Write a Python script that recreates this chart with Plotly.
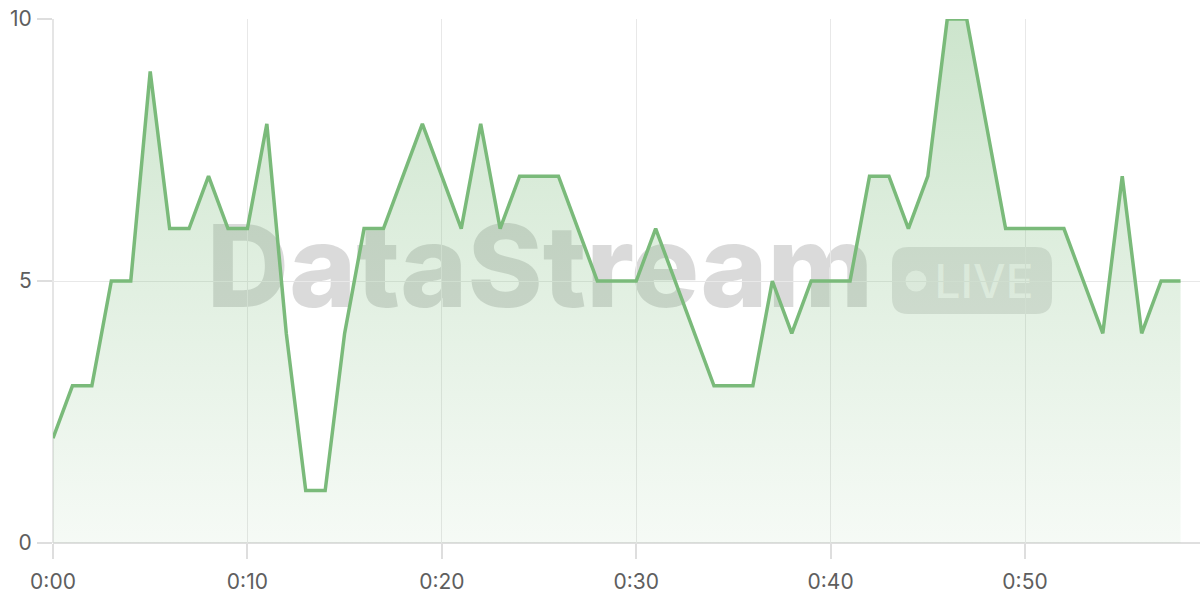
import plotly.graph_objects as go

minutes = list(range(59))
values = [2, 3, 3, 5, 5, 9, 6, 6, 7, 6, 6, 8, 4, 1, 1, 4, 6, 6, 7, 8,
          7, 6, 8, 6, 7, 7, 7, 6, 5, 5, 5, 6, 5, 4, 3, 3, 3, 5, 4, 5,
          5, 5, 7, 7, 6, 7, 10, 10, 8, 6, 6, 6, 6, 5, 4, 7, 4, 5, 5]
tick_vals = [0, 10, 20, 30, 40, 50]
tick_text = ["0:00", "0:10", "0:20", "0:30", "0:40", "0:50"]
watermark = "DataStream"
badge = "LIVE"

W, H = 1200, 600
L, R, T, B = 53, 0, 19, 57
pw, ph = W - L - R, H - T - B

def px(x):
    return (x - L) / pw

def py(y):
    return (H - B - y) / ph

fig = go.Figure()
fig.add_trace(go.Scatter(
    x=minutes, y=values, mode="lines",
    line=dict(color="#7aba7a", width=3.5),
    fill="tozeroy",
    fillgradient=dict(type="vertical",
                      colorscale=[[0, "rgba(122,186,122,0.07)"], [1, "rgba(122,186,122,0.38)"]]),
    hoverinfo="skip",
))

font_fam = "Inter, Open Sans, sans-serif"
shapes = []
# Watermark text
shapes.append(dict(type="rect", xref="paper", yref="paper", layer="between",
                   x0=px(200), x1=px(880), y0=py(318), y1=py(205),
                   line=dict(width=0), fillcolor="rgba(0,0,0,0)",
                   label=dict(text=watermark, textposition="middle center",
                              font=dict(size=114, color="rgba(0,0,0,0.145)", family=font_fam, weight=800))))
# Badge rounded rect
x0, x1, y0, y1, r = 892, 1052, 247, 314, 16
def P(x, y):
    return f"{px(x):.5f},{py(y):.5f}"
path = (f"M {P(x0 + r, y0)} L {P(x1 - r, y0)} Q {P(x1, y0)} {P(x1, y0 + r)} "
        f"L {P(x1, y1 - r)} Q {P(x1, y1)} {P(x1 - r, y1)} L {P(x0 + r, y1)} "
        f"Q {P(x0, y1)} {P(x0, y1 - r)} L {P(x0, y0 + r)} Q {P(x0, y0)} {P(x0 + r, y0)} Z")
shapes.append(dict(type="path", xref="paper", yref="paper", layer="between", path=path,
                   line=dict(width=0), fillcolor="rgba(0,0,0,0.11)"))
# Dot
shapes.append(dict(type="circle", xref="paper", yref="paper", layer="between",
                   x0=px(905.5), x1=px(926.5), y0=py(291.5), y1=py(270.5),
                   line=dict(width=0), fillcolor="rgba(255,255,255,0.7)"))
# LIVE text
shapes.append(dict(type="rect", xref="paper", yref="paper", layer="between",
                   x0=px(928), x1=px(1040), y0=py(304), y1=py(256),
                   line=dict(width=0), fillcolor="rgba(0,0,0,0)",
                   label=dict(text=badge, textposition="middle center",
                              font=dict(size=46, color="rgba(255,255,255,0.72)", family=font_fam, weight=500))))

fig.update_layout(
    width=W, height=H,
    margin=dict(l=L, r=R, t=T, b=B),
    paper_bgcolor="white", plot_bgcolor="white",
    showlegend=False,
    shapes=shapes,
    font=dict(family=font_fam, size=21, color="#5e5e5e"),
    xaxis=dict(range=[0, 59], tickvals=tick_vals, ticktext=tick_text,
               showgrid=True, gridcolor="#e8e8e8", gridwidth=1,
               ticks="outside", ticklen=15, tickcolor="#dedede", tickwidth=1.5,
               ticklabelstandoff=5,
               showline=False, zeroline=False, fixedrange=True),
    yaxis=dict(range=[0, 10], tickvals=[0, 5, 10],
               showgrid=True, gridcolor="#e8e8e8", gridwidth=1,
               ticks="outside", ticklen=15, tickcolor="#dedede", tickwidth=1.5,
               ticklabelstandoff=1,
               showline=False, zeroline=False, fixedrange=True),
)
# axis base lines
fig.add_shape(type="line", xref="paper", yref="paper", x0=0, x1=1, y0=0, y1=0,
              line=dict(color="#d4d4d4", width=1.5), layer="between")
fig.add_shape(type="line", xref="paper", yref="paper", x0=0, x1=0, y0=0, y1=1,
              line=dict(color="#dcdcdc", width=1.5), layer="between")

fig.write_html("out.html", config={"displayModeBar": False},
               post_script="document.body.style.margin='0';document.body.style.padding='0';")
